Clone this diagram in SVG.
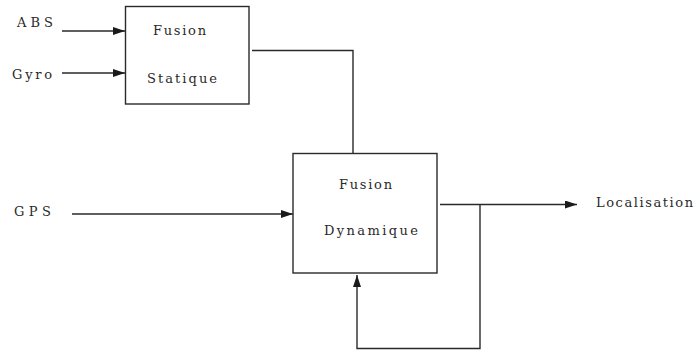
<svg xmlns="http://www.w3.org/2000/svg" width="696" height="350" viewBox="0 0 696 350">
  <defs>
    <marker id="arrow" viewBox="0 0 12 8" refX="12" refY="4" markerWidth="12" markerHeight="8" markerUnits="userSpaceOnUse" orient="auto">
      <path d="M0,0 L12,4 L0,8 Z" fill="#1a1a1a"/>
    </marker>
    <style>
      .box { fill: #ffffff; stroke: #2a2a2a; stroke-width: 1.4; }
      .wire { fill: none; stroke: #2a2a2a; stroke-width: 1.4; }
      .arr { marker-end: url(#arrow); }
    </style>
  </defs>
  <rect width="696" height="350" fill="#ffffff"/>

  <!-- connectors -->
  <g id="connectors">
    <line class="wire arr" x1="62" y1="31" x2="125" y2="31"/>
    <line class="wire arr" x1="62" y1="73" x2="125" y2="73"/>
    <line class="wire arr" x1="72" y1="214" x2="293" y2="214"/>
    <polyline class="wire" points="252,50.5 353,50.5 353,155"/>
    <line class="wire arr" x1="440" y1="204.5" x2="577" y2="204.5"/>
    <polyline class="wire arr" points="480,204.5 480,348.5 357,348.5 357,275"/>
  </g>

  <g font-family="'DejaVu Serif', serif" font-size="13" fill="#2a2a2a">
    <!-- input labels -->
    <g id="in-abs"><text x="17" y="27" textLength="36" lengthAdjust="spacing">ABS</text></g>
    <g id="in-gyro"><text x="12" y="79" textLength="40" lengthAdjust="spacing">Gyro</text></g>
    <g id="in-gps"><text x="14" y="216" textLength="37" lengthAdjust="spacing">GPS</text></g>

    <!-- static fusion block -->
    <g id="fusion-statique">
      <rect class="box" x="125.5" y="6.5" width="123.5" height="97.5"/>
      <text x="153" y="35" textLength="53" lengthAdjust="spacing">Fusion</text>
      <text x="147" y="83" textLength="70" lengthAdjust="spacing">Statique</text>
    </g>

    <!-- dynamic fusion block -->
    <g id="fusion-dynamique">
      <rect class="box" x="293" y="153.5" width="144" height="119.5"/>
      <text x="339" y="189" textLength="53" lengthAdjust="spacing">Fusion</text>
      <text x="324" y="235" textLength="94" lengthAdjust="spacing">Dynamique</text>
    </g>

    <!-- output label -->
    <g id="out-localisation"><text x="596" y="207" textLength="97" lengthAdjust="spacing">Localisation</text></g>
  </g>
</svg>
